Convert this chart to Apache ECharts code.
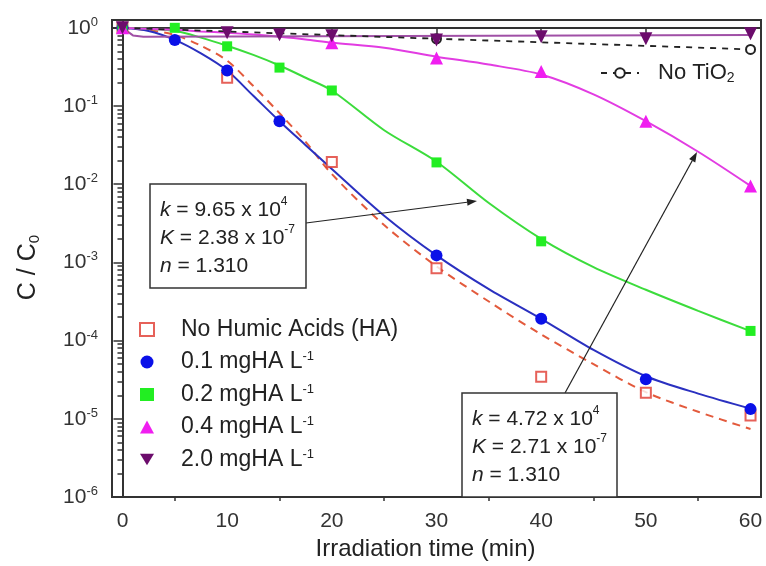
<!DOCTYPE html>
<html><head><meta charset="utf-8">
<script src="https://cdn.jsdelivr.net/npm/echarts@6/dist/echarts.min.js"></script>
<style>html,body{margin:0;padding:0;background:#fff}#c{width:766px;height:566px}</style>
</head><body><div id="c"></div>
<script>
// ---------- data ----------
const xTicks = [0, 10, 20, 30, 40, 50, 60];
const xMinorTicks = [5, 15, 25, 35, 45, 55];
const yTicks = [1e-6, 1e-5, 1e-4, 1e-3, 1e-2, 1e-1, 1];
const yMinorExp = [];   // minor tick positions (log10 of 2..9 x 10^e)
for (let e = -6; e < 0; e++) for (let k = 2; k <= 9; k++) yMinorExp.push(e + Math.log10(k));

// fitted curves
const tFit   = [0, 2.5, 5, 7.5, 10, 12.5, 15, 17.5, 20, 25, 30, 35, 40, 45, 50, 55, 60];
const fitNoHA = [1, 0.93, 0.81, 0.59, 0.38, 0.18, 0.081, 0.0347, 0.0135, 3.0e-3, 8.9e-4, 3.16e-4, 1.2e-4, 5.0e-5, 2.19e-5, 1.23e-5, 7.4e-6];
const fit01  = [1, 0.91, 0.70, 0.47, 0.284, 0.135, 0.064, 0.0316, 0.0157, 3.96e-3, 1.23e-3, 4.55e-4, 1.9e-4, 7.6e-5, 3.5e-5, 2.1e-5, 1.35e-5];
const fit02  = [1, 0.97, 0.916, 0.75, 0.59, 0.45, 0.33, 0.23, 0.158, 0.049, 0.0194, 5.75e-3, 2.0e-3, 8.7e-4, 4.47e-4, 2.4e-4, 1.32e-4];
const fit04  = [1, 0.97, 0.943, 0.9, 0.864, 0.82, 0.768, 0.71, 0.645, 0.557, 0.428, 0.339, 0.253, 0.141, 0.064, 0.026, 9.5e-3];
const tFit20 = [0, 1, 2, 60];
const fit20  = [1, 0.8, 0.77, 0.81];

// measured points
const tNoHA = [0, 10, 20, 30, 40, 50, 60];
const vNoHA = [1, 0.23, 0.0192, 8.4e-4, 3.45e-5, 2.16e-5, 1.1e-5];
const t01 = [0, 5, 10, 15, 30, 40, 50, 60];
const v01 = [1, 0.70, 0.284, 0.064, 1.23e-3, 1.9e-4, 3.2e-5, 1.33e-5];
const t02 = [0, 5, 10, 15, 20, 30, 40, 60];
const v02 = [1, 1.0, 0.58, 0.31, 0.158, 0.019, 1.86e-3, 1.33e-4];
const t04 = [0, 20, 30, 40, 50, 60];
const v04 = [1, 0.645, 0.41, 0.276, 0.064, 9.5e-3];
const t20 = [0, 10, 15, 20, 30, 40, 50, 60];
const v20 = [1, 0.864, 0.815, 0.79, 0.70, 0.77, 0.725, 0.84];
const tNoTiO2 = [0, 30, 60];
const vNoTiO2 = [1, 0.725, 0.53];

const names = ['No Humic Acids (HA)', '0.1 mgHA L-1', '0.2 mgHA L-1', '0.4 mgHA L-1', '2.0 mgHA L-1'];
const nameNoTiO2 = 'No TiO2';

// ---------- helpers ----------
const zip = (t, v) => t.map((x, i) => [x, v[i]]);
const FONT = '"Liberation Sans", Arial, sans-serif';
const C = {
  red: '#e03a30', redFit: '#e35a3c',
  blue: '#0a10e8', blueFit: '#2a30c0',
  green: '#22ee22', greenFit: '#3cdc3c',
  mag: '#f01ef0', magFit: '#e23ce2',
  pur: '#6c0c6c', purFit: '#a050a6',
  blk: '#222'
};

function fitLine(name, t, v, color, extra) {
  return Object.assign({
    name: name, type: 'line', data: zip(t, v), symbol: 'none', showSymbol: false,
    smooth: 0.3, silent: true,
    lineStyle: { color: color, width: 2 }, z: 2
  }, extra || {});
}
function pts(name, t, v, symbol, size, color, extra) {
  return Object.assign({
    name: name, type: 'scatter', data: zip(t, v), symbol: symbol, symbolSize: size,
    itemStyle: { color: color, opacity: 1 }, z: 4
  }, extra || {});
}

const chart = echarts.init(document.getElementById('c'), null, { renderer: 'canvas' });

function arrow(x1, y1, x2, y2) {
  const dx = x2 - x1, dy = y2 - y1, L = Math.hypot(dx, dy);
  const ux = dx / L, uy = dy / L, nx = -uy, ny = ux, hl = 10, hw = 3.5;
  const bx = x2 - ux * hl, by = y2 - uy * hl;
  return [
    { type: 'line', shape: { x1: x1, y1: y1, x2: bx, y2: by }, style: { stroke: '#222', lineWidth: 1.2 }, z: 20 },
    { type: 'polygon', shape: { points: [[x2, y2], [bx + nx * hw, by + ny * hw], [bx - nx * hw, by - ny * hw]] }, style: { fill: '#222' }, z: 20 }
  ];
}
const annRich = {
  i: { fontFamily: FONT, fontSize: 21, fontStyle: 'italic', color: '#222', lineHeight: 28 },
  t: { fontFamily: FONT, fontSize: 21, color: '#222', lineHeight: 28 },
  s: { fontFamily: FONT, fontSize: 12, color: '#222', lineHeight: 10, verticalAlign: 'top' }
};
function box(x, y, w, h, lines) {
  return [
    { type: 'rect', shape: { x: x, y: y, width: w, height: h }, style: { fill: '#fff', stroke: '#333', lineWidth: 1.5 }, z: 21 },
    { type: 'text', x: x + 10, y: y + 12, style: { text: lines, rich: annRich, fontFamily: FONT, fontSize: 21, fill: '#222' }, z: 22 }
  ];
}

const option = {
  animation: false,
  backgroundColor: '#fff',
  textStyle: { fontFamily: FONT },
  grid: { left: 112, right: 5, top: 20, bottom: 66, show: true, borderColor: '#333', borderWidth: 2, backgroundColor: 'transparent' },
  xAxis: [{
    type: 'value', min: -1, max: 61, position: 'bottom',
    name: 'Irradiation time (min)', nameLocation: 'middle', nameGap: 40,
    nameTextStyle: { fontFamily: FONT, fontSize: 24, color: '#222', padding: [0, 22, 0, 0] },
    axisLine: { show: true, lineStyle: { color: '#333', width: 2 } },
    axisTick: { show: true, customValues: xTicks, length: 8, lineStyle: { color: '#333', width: 1.5 } },
    axisLabel: { customValues: xTicks, fontFamily: FONT, fontSize: 21, color: '#333', margin: 14 },
    splitLine: { show: false }
  }, {
    type: 'value', min: -1, max: 61, position: 'bottom',
    axisLine: { show: false },
    axisTick: { show: true, customValues: xMinorTicks, length: 4, lineStyle: { color: '#333', width: 1.5 } },
    axisLabel: { show: false }, splitLine: { show: false }
  }],
  yAxis: [{
    type: 'log', logBase: 10, min: 1e-6, max: 1.2589, position: 'left',
    name: '{t|C / C}{s|0}', nameLocation: 'middle', nameGap: 70,
    nameTextStyle: {
      fontFamily: FONT, fontSize: 25, color: '#222', padding: [0, 18, 0, 0],
      rich: {
        t: { fontFamily: FONT, fontSize: 25, color: '#222', lineHeight: 28 },
        s: { fontFamily: FONT, fontSize: 15, color: '#222', lineHeight: 4, verticalAlign: 'bottom' }
      }
    },
    axisLine: { show: true, lineStyle: { color: '#333', width: 2 } },
    axisTick: { show: true, customValues: yTicks, length: 9, lineStyle: { color: '#333', width: 1.5 } },
    axisLabel: {
      customValues: yTicks, margin: 14,
      formatter: function (v) { const e = Math.round(Math.log10(v)); return '{b|10}{s|' + e + '}'; },
      rich: {
        b: { fontFamily: FONT, fontSize: 21, color: '#333', lineHeight: 24 },
        s: { fontFamily: FONT, fontSize: 13, color: '#333', lineHeight: 14, verticalAlign: 'top' }
      }
    },
    splitLine: { show: false }
  }, {
    // decoration only: log-spaced minor ticks of the left axis
    type: 'value', min: -6, max: 0.1, position: 'left',
    axisLine: { show: false },
    axisTick: { show: true, customValues: yMinorExp, length: 5, lineStyle: { color: '#333', width: 1.5 } },
    axisLabel: { show: false }, splitLine: { show: false }
  }],
  legend: [{
    data: names.map(function (n, i) { return i === 4 ? { name: n, icon: 'path://M0,0L12,0L6,10Z' } : n; }),
    orient: 'vertical', left: 134, top: 313,
    itemWidth: 14, itemHeight: 13, itemGap: 9, selectedMode: false,
    formatter: function (n) { return n.endsWith(' L-1') ? '{t|' + n.slice(0, -2) + '}{s|-1}' : '{t|' + n + '}'; },
    textStyle: {
      fontFamily: FONT, fontSize: 23, color: '#222', padding: [0, 0, 0, 22],
      rich: {
        t: { fontFamily: FONT, fontSize: 23, color: '#222', lineHeight: 24 },
        s: { fontFamily: FONT, fontSize: 13, color: '#222', lineHeight: 12, verticalAlign: 'top' }
      }
    }
  }, {
    data: [nameNoTiO2], orient: 'horizontal', left: 595, top: 57,
    itemWidth: 38, itemHeight: 12, selectedMode: false,
    formatter: '{t|No TiO}{s|2}',
    itemStyle: { borderWidth: 2.5 },
    textStyle: {
      fontFamily: FONT, fontSize: 22, color: '#222', padding: [0, 0, 0, 14],
      rich: {
        t: { fontFamily: FONT, fontSize: 22, color: '#222', lineHeight: 24 },
        s: { fontFamily: FONT, fontSize: 14, color: '#222', lineHeight: 2, verticalAlign: 'bottom' }
      }
    }
  }],
  series: [
    fitLine('fitNoHA', tFit, fitNoHA, C.redFit, { lineStyle: { color: C.redFit, width: 2, type: [8, 6] } }),
    fitLine('fit01', tFit, fit01, C.blueFit),
    fitLine('fit02', tFit, fit02, C.greenFit),
    fitLine('fit04', tFit, fit04, C.magFit),
    fitLine('fit20', tFit20, fit20, C.purFit, { smooth: false }),
    {
      name: nameNoTiO2, type: 'line', data: zip(tNoTiO2, vNoTiO2),
      symbol: 'emptyCircle', symbolSize: 9, showSymbol: true,
      lineStyle: { color: C.blk, width: 1.8, type: [6, 6] },
      itemStyle: { color: C.blk, borderWidth: 1.5 }, z: 3
    },
    pts(names[0], tNoHA, vNoHA, 'emptyRect', 10, C.red, { itemStyle: { color: C.red, borderWidth: 1.8 } }),
    pts(names[1], t01, v01, 'circle', 12, C.blue),
    pts(names[2], t02, v02, 'rect', 10, C.green),
    pts(names[3], t04, v04, 'triangle', 13, C.mag),
    pts(names[4], t20, v20, 'triangle', 13, C.pur, { symbolRotate: 180 })
  ],
  graphic: [].concat(
    box(150, 184, 156, 104, '{i|k}{t| = 9.65 x 10}{s|4}\n{i|K}{t| = 2.38 x 10}{s|-7}\n{i|n}{t| = 1.310}'),
    box(462, 393, 155, 104, '{i|k}{t| = 4.72 x 10}{s|4}\n{i|K}{t| = 2.71 x 10}{s|-7}\n{i|n}{t| = 1.310}'),
    arrow(306, 223, 477, 201),
    arrow(565, 393, 697, 152)
  )
};
chart.setOption(option);
</script></body></html>
